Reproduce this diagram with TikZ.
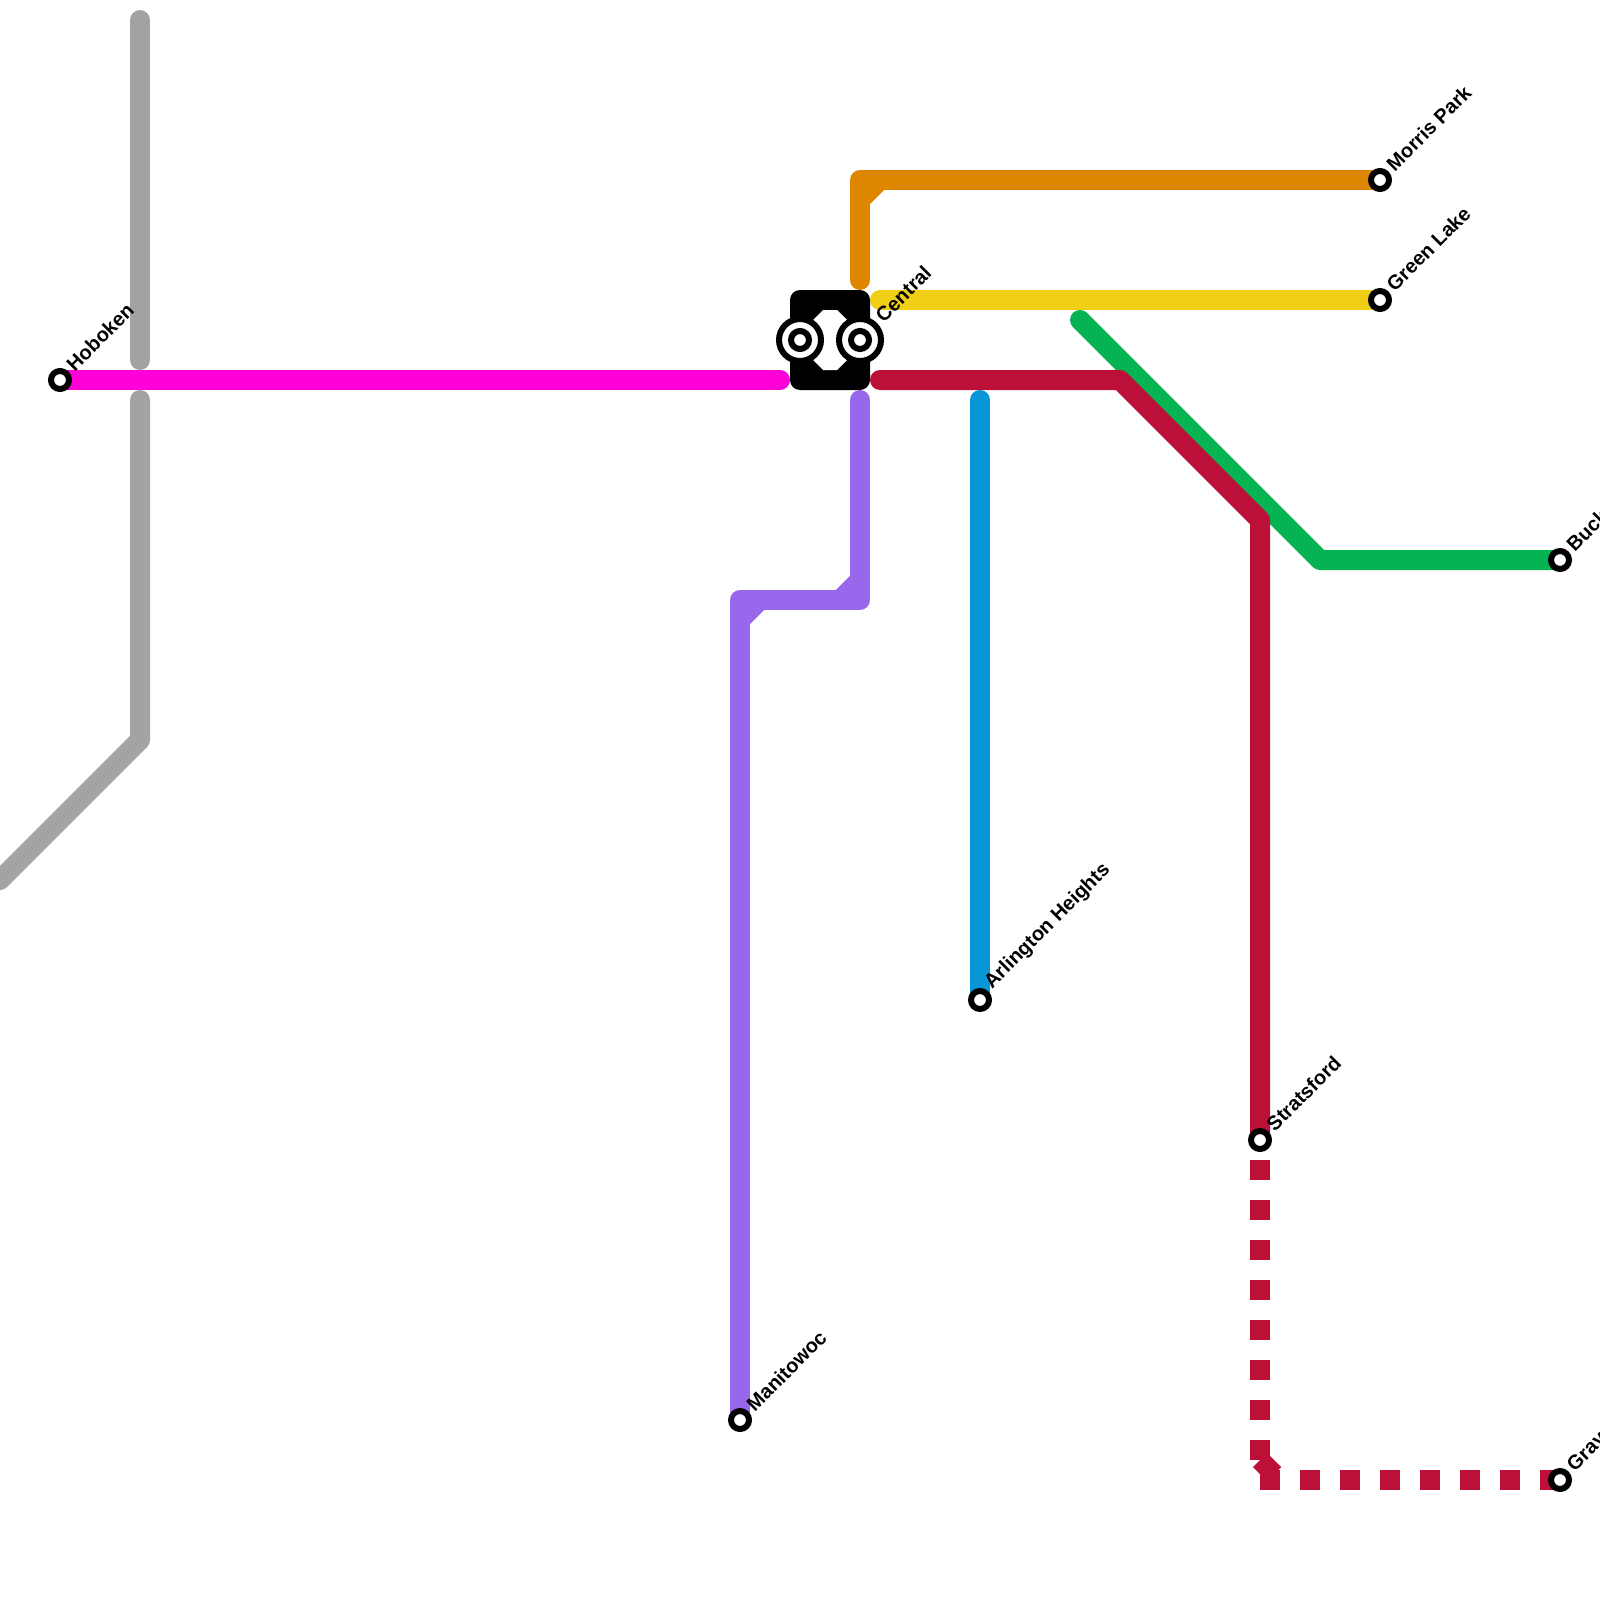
\documentclass[tikz,border=0pt]{standalone}
\usepackage{fontspec}
\setmainfont{Liberation Sans}
\definecolor{cgray}{HTML}{A3A3A3}
\definecolor{cmag}{HTML}{FF00D8}
\definecolor{cpur}{HTML}{9868EC}
\definecolor{cblue}{HTML}{0896D7}
\definecolor{cred}{HTML}{BC1038}
\definecolor{cgreen}{HTML}{05B353}
\definecolor{cyel}{HTML}{F0CE15}
\definecolor{cora}{HTML}{DF8600}
\tikzset{
  x=0.5pt,y=-0.5pt,
  metro/.style={line width=10pt,line cap=round,line join=round},
  dashline/.style={line width=10pt,line cap=butt,color=cred,dash pattern=on 10pt off 10pt},
  station/.style={circle,draw=black,fill=white,line width=3pt,minimum size=9pt,inner sep=0pt},
  bigstation/.style={circle,draw=black,fill=white,line width=3pt,minimum size=21pt,inner sep=0pt},
  stationlabel/.style={font=\fontsize{10pt}{12pt}\selectfont\bfseries,rotate=45,anchor=south west,inner sep=0pt}
}
\begin{document}
\begin{tikzpicture}
\useasboundingbox (0,0) rectangle (1600,1600);
\clip (0,0) rectangle (1600,1600);
\coordinate (g1) at (140,20);\coordinate (g2) at (140,360);
\coordinate (g3) at (140,400);\coordinate (g4) at (140,740);\coordinate (g5) at (0,880);
\coordinate (m2) at (780,380);
\coordinate (o1) at (860,280);\coordinate (o2) at (860,180);\coordinate (o3) at (860,200);\coordinate (o4) at (880,180);
\coordinate (y1) at (880,300);
\coordinate (r1) at (880,380);\coordinate (r2) at (1120,380);\coordinate (r3) at (1260,520);
\coordinate (gr1) at (1080,320);\coordinate (gr2) at (1320,560);
\coordinate (b1) at (980,400);
\coordinate (p1) at (860,400);\coordinate (p2) at (860,600);\coordinate (p3) at (740,600);
\coordinate (p4) at (840,600);\coordinate (p5) at (860,580);\coordinate (p6) at (740,620);\coordinate (p7) at (760,600);
\coordinate (d1) at (1260,1480);\coordinate (d2) at (1260,1460);\coordinate (d3) at (1280,1480);
\coordinate (hubtl) at (790,290);\coordinate (hubbr) at (870,390);
\path
  (60,380) coordinate (Hob)
  (800,340) coordinate (CenL)
  (860,340) coordinate (CenR)
  (1380,180) coordinate (Mor)
  (1380,300) coordinate (Gre)
  (1560,560) coordinate (Buc)
  (980,1000) coordinate (Arl)
  (740,1420) coordinate (Man)
  (1260,1140) coordinate (Str)
  (1560,1480) coordinate (Gra);
% lines
\draw[metro,cgray] (g1) -- (g2);
\draw[metro,cgray] (g3) -- (g4) -- (g5);
\draw[metro,cmag] (Hob) -- (m2);
\draw[metro,cora] (o1) -- (o2) -- (Mor);
\draw[metro,cora] (o3) -- (o4);
\draw[metro,cyel] (y1) -- (Gre);
\draw[metro,cgreen] (gr1) -- (gr2) -- (Buc);
\draw[metro,cred] (r1) -- (r2) -- (r3) -- (Str);
\draw[metro,cblue] (b1) -- (Arl);
\draw[metro,cpur] (p1) -- (p2) -- (p3) -- (Man);
\draw[metro,cpur] (p4) -- (p5);
\draw[metro,cpur] (p6) -- (p7);
\draw[dashline,dash phase=10pt] (Str) -- (d2);
\draw[dashline] (d2) -- (d3);
\draw[dashline] (d1) -- (Gra);
% hub
\fill[black,rounded corners=5pt] (hubtl) rectangle (hubbr);
\fill[white] (823,310) -- (837,310) -- (857,330) -- (857,350) -- (837,370) -- (823,370) -- (803,350) -- (803,330) -- cycle;
\node[bigstation] (nL) at (CenL) {};
\node[station] (nLi) at (CenL) {};
\node[bigstation] (nR) at (CenR) {};
\node[station] (nRi) at (CenR) {};
% stations
\foreach \n in {Hob,Mor,Gre,Buc,Arl,Man,Str,Gra}{ \node[station] (s\n) at (\n) {}; }
% labels
\node[stationlabel] (lHob) at ([shift={(15,-7)}]Hob) {Hoboken};
\node[stationlabel] (lCen) at ([shift={(24,-16)}]CenR) {Central};
\node[stationlabel] (lMor) at ([shift={(15,-7)}]Mor) {Morris Park};
\node[stationlabel] (lGre) at ([shift={(15,-7)}]Gre) {Green Lake};
\node[stationlabel] (lBuc) at ([shift={(15,-7)}]Buc) {Buck};
\node[stationlabel] (lArl) at ([shift={(15,-7)}]Arl) {Arlington Heights};
\node[stationlabel] (lMan) at ([shift={(15,-7)}]Man) {Manitowoc};
\node[stationlabel] (lStr) at ([shift={(15,-7)}]Str) {Stratsford};
\node[stationlabel] (lGra) at ([shift={(15,-7)}]Gra) {Grav};
\end{tikzpicture}
\end{document}
